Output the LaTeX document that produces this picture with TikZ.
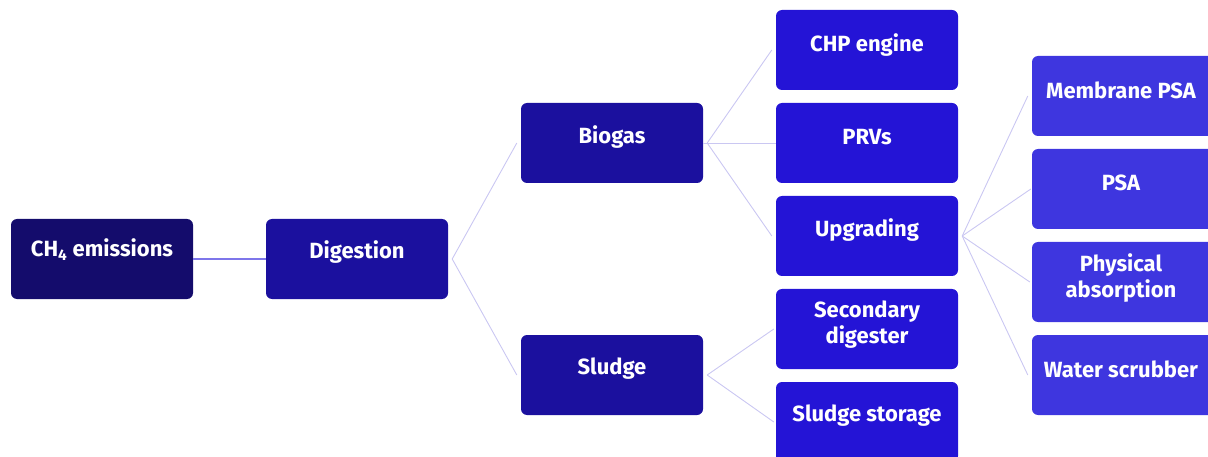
\documentclass[tikz,border=0pt]{standalone}
\usepackage{fontspec}
\setmainfont{Fira Sans}
\definecolor{cA}{HTML}{140C6C}
\definecolor{cB}{HTML}{1B109E}
\definecolor{cC}{HTML}{2414D6}
\definecolor{cD}{HTML}{3E36DF}
\definecolor{lnA}{HTML}{CAC7F2}
\definecolor{lnB}{HTML}{7E76EA}
\begin{document}
\begin{tikzpicture}[x=1pt,y=-1pt,
  box/.style={rectangle,rounded corners=6pt,minimum width=182pt,minimum height=80pt,inner sep=0pt,draw=none},
  lbl/.style={text=white,font=\bfseries\fontsize{22}{26}\selectfont,align=center,inner sep=0pt},
  conn/.style={draw=lnA,line width=0.9pt},
  connB/.style={draw=lnB,line width=1.6pt}]
\useasboundingbox (0,0) rectangle (1208,457);
\clip (0,0) rectangle (1208,457);
% boxes
\node[box,fill=cA] (ch4) at (102,259) {};
\node[box,fill=cB] (dig) at (357,259) {};
\node[box,fill=cB] (bio) at (612,143) {};
\node[box,fill=cB] (slu) at (612,375) {};
\node[box,fill=cC] (chp) at (867,50) {};
\node[box,fill=cC] (prv) at (867,143) {};
\node[box,fill=cC] (upg) at (867,236) {};
\node[box,fill=cC] (sec) at (867,329) {};
\node[box,fill=cC] (sto) at (867,422) {};
\node[box,fill=cD] (mem) at (1123,96) {};
\node[box,fill=cD] (psa) at (1123,189) {};
\node[box,fill=cD] (phy) at (1123,282) {};
\node[box,fill=cD] (wat) at (1123,375) {};
% labels
\node[lbl] (ch4t) at ([yshift=-31pt]ch4.north) {CH\textsubscript{4} emissions};
\node[lbl] (digt) at ([yshift=-33pt]dig.north) {Digestion};
\node[lbl] (biot) at ([yshift=-34pt]bio.north) {Biogas};
\node[lbl] (slut) at ([yshift=-34pt]slu.north) {Sludge};
\node[lbl] (chpt) at ([yshift=-35pt]chp.north) {CHP engine};
\node[lbl] (prvt) at ([yshift=-34pt]prv.north) {PRVs};
\node[lbl] (upgt) at ([yshift=-34pt]upg.north) {Upgrading};
\node[lbl] (sect) at ([yshift=-36pt]sec.north) {Secondary\\digester};
\node[lbl] (stot) at ([yshift=-34pt]sto.north) {Sludge storage};
\node[lbl] (memt) at ([yshift=-35pt,xshift=-2pt]mem.north) {Membrane PSA};
\node[lbl] (psat) at ([yshift=-34pt,xshift=-2pt]psa.north) {PSA};
\node[lbl] (phyt) at ([yshift=-36pt,xshift=-2pt]phy.north) {Physical\\absorption};
\node[lbl] (watt) at ([yshift=-35pt,xshift=-2pt]wat.north) {Water scrubber};
% connectors
\draw[connB] (ch4.east) -- (dig.west);
\coordinate (fd) at ([xshift=4pt]dig.east);
\coordinate (fb) at ([xshift=4pt]bio.east);
\coordinate (fs) at ([xshift=4pt]slu.east);
\coordinate (fu) at ([xshift=4pt]upg.east);
\draw[conn] (fd) -- ([xshift=-4pt]bio.west);
\draw[conn] (fd) -- ([xshift=-4pt]slu.west);
\draw[conn] (fb) -- ([xshift=-4pt]chp.west);
\draw[conn] (bio.east) -- (prv.west);
\draw[conn] (fb) -- ([xshift=-4pt]upg.west);
\draw[conn] (fs) -- ([xshift=-2pt]sec.west);
\draw[conn] (fs) -- ([xshift=-2pt]sto.west);
\draw[conn] (fu) -- ([xshift=-4pt]mem.west);
\draw[conn] (fu) -- ([xshift=-1pt]psa.west);
\draw[conn] (fu) -- ([xshift=-2pt]phy.west);
\draw[conn] (fu) -- ([xshift=-4pt]wat.west);
\end{tikzpicture}
\end{document}
